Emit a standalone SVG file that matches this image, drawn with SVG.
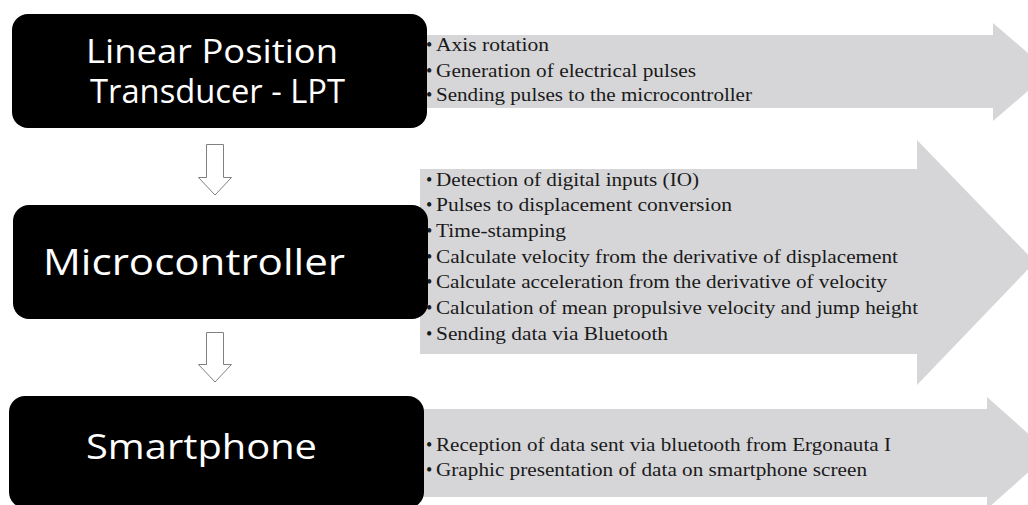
<svg xmlns="http://www.w3.org/2000/svg" width="1028" height="505" viewBox="0 0 1028 505">
  <style>
    .panel { fill: #d6d6d8; }
    .box { fill: #000000; }
    .title { font-family: "Open Sans", "Noto Sans", sans-serif; fill: #ffffff; }
    .item { font-family: "Liberation Serif", "Times New Roman", serif; font-size: 18px; fill: #1a1a1a; }
    .down { fill: #ffffff; stroke: #808080; stroke-width: 1; }
  </style>
  <rect width="1028" height="505" fill="#ffffff"/>

  <g id="lpt-details">
    <path class="panel" d="M420,35 H993 V23 L1050,72 L993,121 V108 H420 Z"/>
    <text class="item" x="426" y="51">•</text>
    <text class="item" x="436" y="51" textLength="113" lengthAdjust="spacingAndGlyphs">Axis rotation</text>
    <text class="item" x="426" y="77">•</text>
    <text class="item" x="436" y="77" textLength="260" lengthAdjust="spacingAndGlyphs">Generation of electrical pulses</text>
    <text class="item" x="426" y="101">•</text>
    <text class="item" x="436" y="101" textLength="316" lengthAdjust="spacingAndGlyphs">Sending pulses to the microcontroller</text>
  </g>

  <g id="microcontroller-details">
    <path class="panel" d="M420,169 H917 V140 L1035,262 L917,385 V354 H420 Z"/>
    <text class="item" x="426" y="186">•</text>
    <text class="item" x="436" y="186" textLength="263" lengthAdjust="spacingAndGlyphs">Detection of digital inputs (IO)</text>
    <text class="item" x="426" y="211">•</text>
    <text class="item" x="436" y="211" textLength="296" lengthAdjust="spacingAndGlyphs">Pulses to displacement conversion</text>
    <text class="item" x="426" y="237">•</text>
    <text class="item" x="436" y="237" textLength="130" lengthAdjust="spacingAndGlyphs">Time-stamping</text>
    <text class="item" x="426" y="263">•</text>
    <text class="item" x="436" y="263" textLength="462" lengthAdjust="spacingAndGlyphs">Calculate velocity from the derivative of displacement</text>
    <text class="item" x="426" y="288">•</text>
    <text class="item" x="436" y="288" textLength="451" lengthAdjust="spacingAndGlyphs">Calculate acceleration from the derivative of velocity</text>
    <text class="item" x="426" y="314">•</text>
    <text class="item" x="436" y="314" textLength="482" lengthAdjust="spacingAndGlyphs">Calculation of mean propulsive velocity and jump height</text>
    <text class="item" x="426" y="340">•</text>
    <text class="item" x="436" y="340" textLength="232" lengthAdjust="spacingAndGlyphs">Sending data via Bluetooth</text>
  </g>

  <g id="smartphone-details">
    <path class="panel" d="M420,409 H987 V397 L1050,453 L987,509 V497 H420 Z"/>
    <text class="item" x="426" y="451">•</text>
    <text class="item" x="436" y="451" textLength="455" lengthAdjust="spacingAndGlyphs">Reception of data sent via bluetooth from Ergonauta I</text>
    <text class="item" x="426" y="476">•</text>
    <text class="item" x="436" y="476" textLength="431" lengthAdjust="spacingAndGlyphs">Graphic presentation of data on smartphone screen</text>
  </g>

  <g id="lpt">
    <rect class="box" x="12" y="14" width="415" height="114" rx="16" ry="16"/>
    <text class="title" x="86" y="63" font-size="32" textLength="252" lengthAdjust="spacingAndGlyphs">Linear Position</text>
    <text class="title" x="90" y="103" font-size="32" textLength="255" lengthAdjust="spacingAndGlyphs">Transducer - LPT</text>
  </g>

  <g id="microcontroller">
    <rect class="box" x="13" y="205" width="415" height="114" rx="16" ry="16"/>
    <text class="title" x="43" y="275" font-size="37" textLength="302" lengthAdjust="spacingAndGlyphs">Microcontroller</text>
  </g>

  <g id="smartphone">
    <rect class="box" x="9" y="396" width="415" height="112" rx="16" ry="16"/>
    <text class="title" x="86" y="459" font-size="35" textLength="231" lengthAdjust="spacingAndGlyphs">Smartphone</text>
  </g>

  <g id="connectors">
    <path class="down" d="M206.5,144.5 H223.5 V177.5 H231.5 L215,195 L198.5,177.5 H206.5 Z"/>
    <path class="down" d="M206.5,332.5 H223.5 V364.5 H231.5 L215,382 L198.5,364.5 H206.5 Z"/>
  </g>
</svg>
